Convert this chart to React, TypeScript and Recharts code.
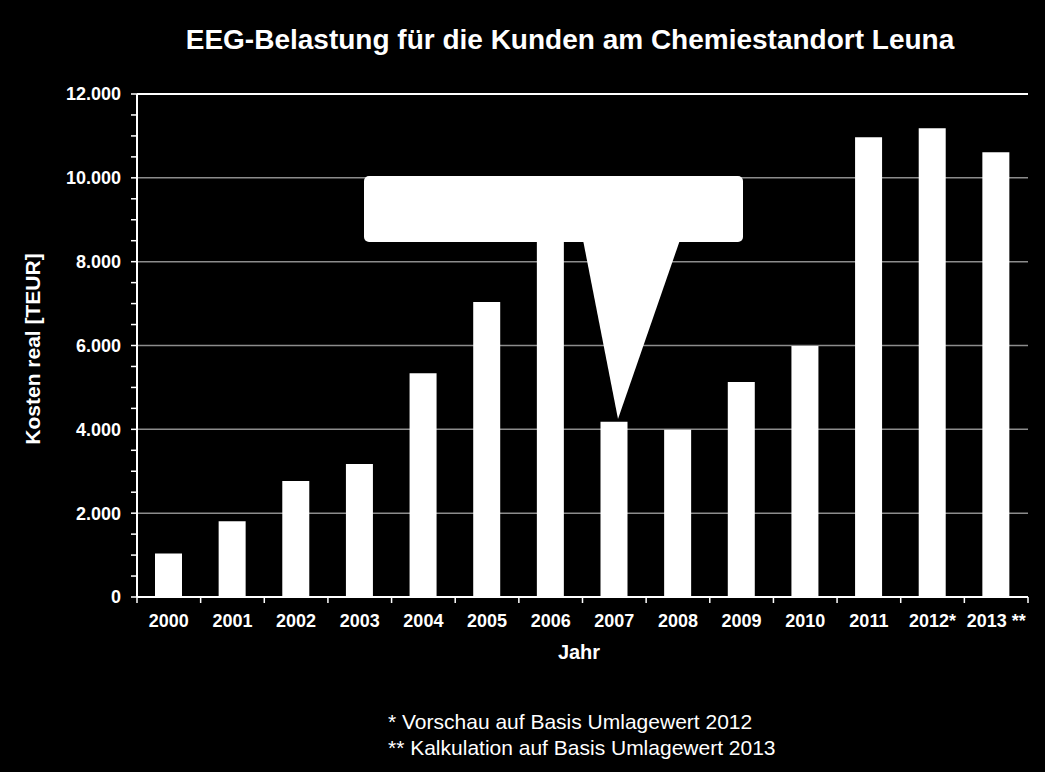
import { BarChart, Bar, XAxis, YAxis, CartesianGrid, ReferenceLine } from 'recharts';

const years = ['2000', '2001', '2002', '2003', '2004', '2005', '2006', '2007', '2008', '2009', '2010', '2011', '2012*', '2013 **'];
const costs = [1040, 1810, 2770, 3170, 5340, 7040, 9000, 4180, 3990, 5130, 5990, 10970, 11180, 10610];
const yTicks = [0, 500, 1000, 1500, 2000, 2500, 3000, 3500, 4000, 4500, 5000, 5500, 6000, 6500, 7000, 7500, 8000, 8500, 9000, 9500, 10000, 10500, 11000, 11500, 12000];
const gridValues = [2000, 4000, 6000, 8000, 10000];

const W = 1045;
const H = 772;
const PLOT_LEFT = 137;
const PLOT_RIGHT = 1028;
const PLOT_TOP = 94;
const PLOT_BOTTOM = 597;
const Y_AXIS_W = 70;
const X_AXIS_H = 50;
const BAND = (PLOT_RIGHT - PLOT_LEFT) / years.length;
const FONT = '"Liberation Sans", Arial, sans-serif';

const data = years.map((year, i) => ({ year, cost: costs[i] }));

const fmt = (v: number) => (v % 2000 === 0 ? v.toLocaleString('de-DE') : '');

function YearTick({ x, payload, index }: any) {
  const left = x - BAND / 2;
  return (
    <g>
      <line x1={left} x2={left} y1={PLOT_BOTTOM} y2={PLOT_BOTTOM + 6} stroke="#fff" strokeWidth={1.5} />
      {index === years.length - 1 && (
        <line x1={left + BAND} x2={left + BAND} y1={PLOT_BOTTOM} y2={PLOT_BOTTOM + 6} stroke="#fff" strokeWidth={1.5} />
      )}
      <text x={x} y={PLOT_BOTTOM + 30} textAnchor="middle" fill="#fff" fontSize={18} fontWeight="bold" fontFamily={FONT}>
        {payload.value}
      </text>
    </g>
  );
}

export default function App() {
  return (
    <div style={{ position: 'absolute', left: 0, top: 0, width: W, height: H, background: '#000', fontFamily: FONT, color: '#fff' }}>
      <div style={{ position: 'absolute', left: 570, top: 24, transform: 'translateX(-50%)', whiteSpace: 'nowrap', fontSize: 28, fontWeight: 'bold' }}>
        EEG-Belastung für die Kunden am Chemiestandort Leuna
      </div>
      <BarChart
        width={W}
        height={H}
        data={data}
        barSize={27}
        margin={{ top: PLOT_TOP, right: W - PLOT_RIGHT, bottom: H - PLOT_BOTTOM - X_AXIS_H, left: PLOT_LEFT - Y_AXIS_W }}
      >
        <CartesianGrid vertical={false} horizontalValues={gridValues} stroke="#8c8c8c" strokeWidth={1.5} />
        <XAxis
          dataKey="year"
          height={X_AXIS_H}
          interval={0}
          tickLine={false}
          axisLine={{ stroke: '#fff', strokeWidth: 2 }}
          tick={<YearTick />}
        />
        <YAxis
          width={Y_AXIS_W}
          domain={[0, 12000]}
          ticks={yTicks}
          interval={0}
          tickFormatter={fmt}
          tickSize={6}
          tickMargin={10}
          tickLine={{ stroke: '#fff', strokeWidth: 1.5 }}
          axisLine={{ stroke: '#fff', strokeWidth: 2 }}
          tick={{ fill: '#fff', fontSize: 18, fontWeight: 'bold', fontFamily: FONT }}
        />
        <YAxis yAxisId="r" orientation="right" width={0} domain={[0, 12000]} tick={false} tickLine={false} axisLine={{ stroke: '#fff', strokeWidth: 2 }} />
        <ReferenceLine y={12000} stroke="#fff" strokeWidth={2} />
        <Bar dataKey="cost" fill="#fff" isAnimationActive={false} />
      </BarChart>
      <svg width={W} height={H} style={{ position: 'absolute', left: 0, top: 0, pointerEvents: 'none' }}>
        <rect x={364} y={176} width={379} height={66} rx={5} fill="#fff" />
        <polygon points="583,240 680,240 618,419" fill="#fff" />
      </svg>
      <div style={{ position: 'absolute', left: 579, top: 641, transform: 'translateX(-50%)', fontSize: 20, fontWeight: 'bold' }}>Jahr</div>
      <div
        style={{
          position: 'absolute',
          left: 33,
          top: 349,
          transform: 'translate(-50%, -50%) rotate(-90deg)',
          whiteSpace: 'nowrap',
          fontSize: 21,
          fontWeight: 'bold',
        }}
      >
        Kosten real [TEUR]
      </div>
      <div style={{ position: 'absolute', left: 388, top: 709, fontSize: 21, lineHeight: '26px' }}>
        <div>* Vorschau auf Basis Umlagewert 2012</div>
        <div>** Kalkulation auf Basis Umlagewert 2013</div>
      </div>
    </div>
  );
}
